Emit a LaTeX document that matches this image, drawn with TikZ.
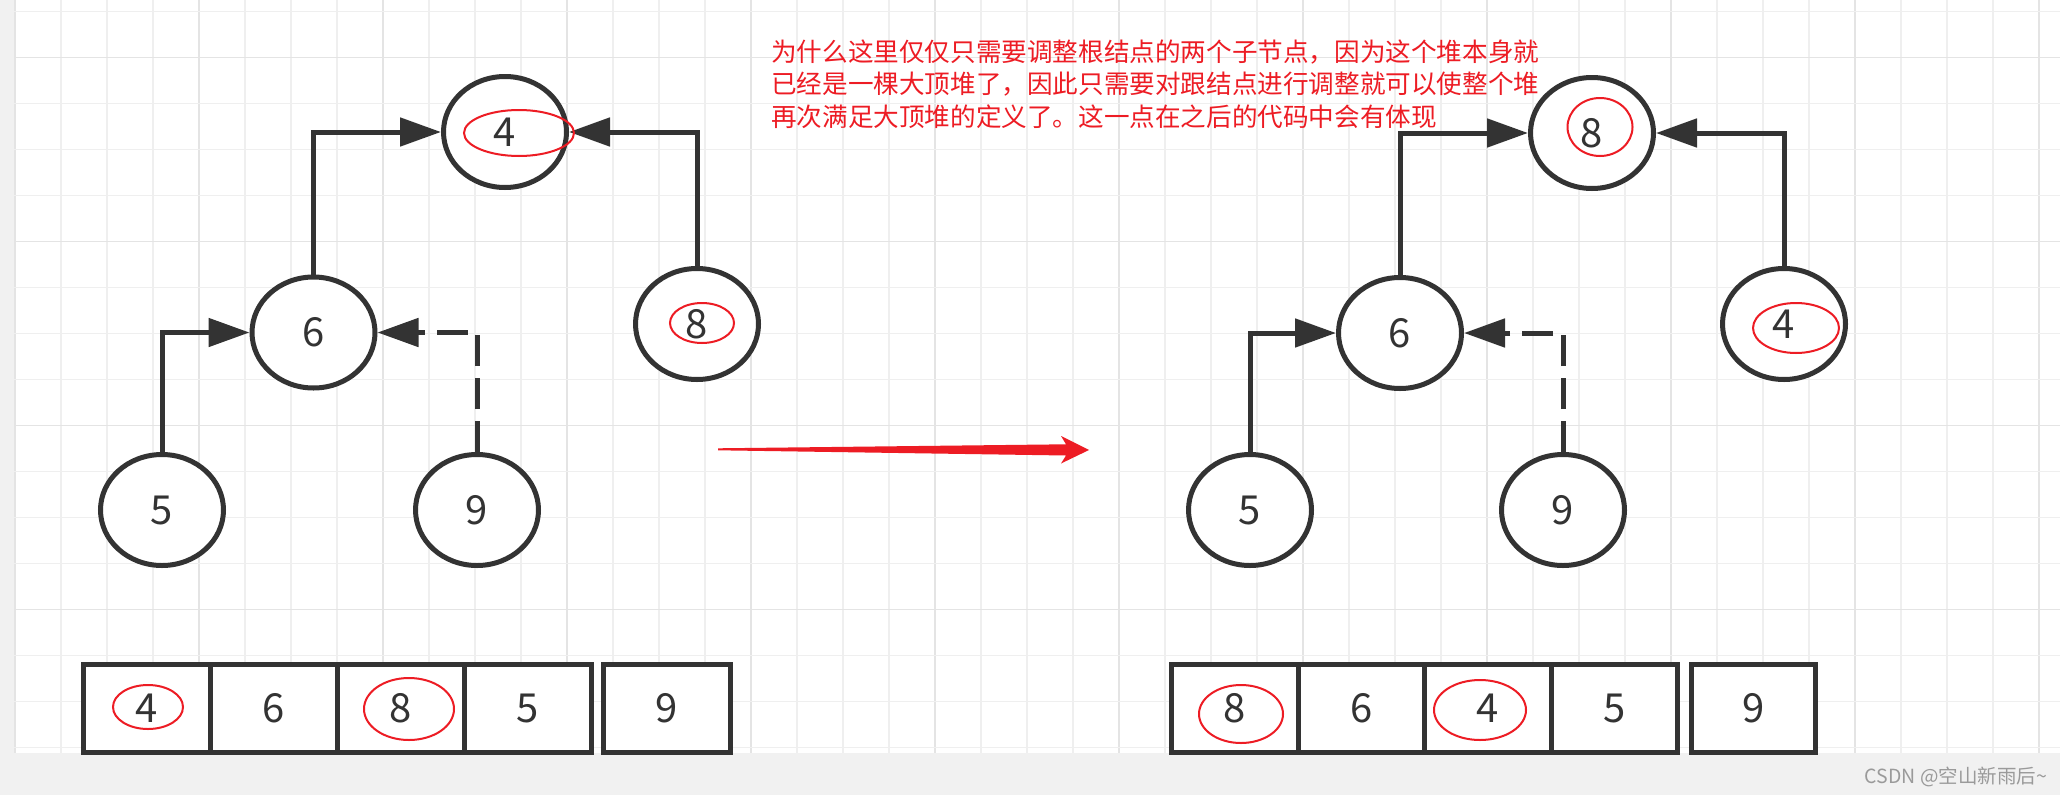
\documentclass[tikz,border=0pt]{standalone}
\usepackage{fontspec}
\setmainfont{Noto Sans CJK SC}
\usetikzlibrary{arrows.meta,shapes.geometric}
\definecolor{dk}{HTML}{333333}
\definecolor{rd}{HTML}{ED1C24}
\definecolor{bgg}{HTML}{F1F1F1}
\definecolor{gmin}{HTML}{EFEFEF}
\definecolor{gmaj}{HTML}{E4E4E4}
\definecolor{wmc}{HTML}{9A9A9A}
\tikzset{
  hnode/.style={ellipse, draw=dk, line width=5pt, fill=white, minimum width=123pt, minimum height=111pt, inner sep=0pt, text=dk, font=\fontsize{40}{40}\selectfont},
  cell/.style={rectangle, draw=dk, line width=5pt, fill=white, minimum width=127pt, minimum height=88pt, inner sep=0pt, text=dk, font=\fontsize{40}{40}\selectfont},
  link/.style={draw=dk, line width=5pt, -{Triangle[length=41pt,width=28pt]}},
  dlink/.style={link, dash pattern=on 31pt off 12pt},
  redring/.style={draw=rd, line width=2pt},
  note/.style={anchor=base west, text=rd, inner sep=0pt, font=\fontsize{25.6}{25.6}\selectfont}
}
\begin{document}
\begin{tikzpicture}[x=1pt,y=-1pt]
\useasboundingbox (0,0) rectangle (2060,795);
% background
\fill[bgg] (0,0) rectangle (2060,795);
\fill[white] (14,0) rectangle (2060,753);
\foreach \k in {0,...,44}{
  \pgfmathtruncatemacro{\m}{mod(\k,4)}
  \ifnum\m=0
    \draw[gmaj, line width=1.2pt] ({15+46*\k},0) -- ({15+46*\k},753);
  \else
    \draw[gmin, line width=1.2pt] ({15+46*\k},0) -- ({15+46*\k},753);
  \fi
}
\foreach \k in {0,...,16}{
  \pgfmathtruncatemacro{\m}{mod(\k+3,4)}
  \ifnum\m=0
    \draw[gmaj, line width=1.2pt] (14,{11.5+46*\k}) -- (2060,{11.5+46*\k});
  \else
    \draw[gmin, line width=1.2pt] (14,{11.5+46*\k}) -- (2060,{11.5+46*\k});
  \fi
}

% ---------- left tree ----------
\node[hnode] (La) at (505,132) {4};
\node[hnode] (Lb) at (313.5,332.5) {6};
\node[hnode] (Lc) at (697,324) {8};
\node[hnode] (Ld) at (162,510) {5};
\node[hnode] (Le) at (477,510) {9};
\draw[link] (Lb.north) |- (La.west);
\draw[link] (Lc.north) |- (La.east);
\draw[link] (Ld.north) |- (Lb.west);
\draw[dlink] (Le.north) |- (Lb.east);
\draw[redring] (519,133) ellipse [x radius=55, y radius=23];
\draw[redring] (702,323) ellipse [x radius=32, y radius=20];

% ---------- right tree ----------
\node[hnode] (Ra) at (1592,133) {8};
\node[hnode] (Rb) at (1400,333) {6};
\node[hnode] (Rc) at (1784,324) {4};
\node[hnode] (Rd) at (1250,510) {5};
\node[hnode] (Re) at (1563,510) {9};
\draw[link] (Rb.north) |- (Ra.west);
\draw[link] (Rc.north) |- (Ra.east);
\draw[link] (Rd.north) |- (Rb.west);
\draw[dlink] (Re.north) |- (Rb.east);
\draw[redring] (1600,127) ellipse [x radius=32.5, y radius=29];
\draw[redring] (1796,328) ellipse [x radius=43, y radius=25];

% ---------- arrays ----------
\node[cell] (A1) at (147,708.5) {4};
\node[cell] (A2) at (274,708.5) {6};
\node[cell] (A3) at (401,708.5) {8};
\node[cell] (A4) at (528,708.5) {5};
\node[cell] (A5) at (667,708.5) {9};
\draw[redring] (148,707) ellipse [x radius=35, y radius=22];
\draw[redring] (409,709) ellipse [x radius=45, y radius=31];

\node[cell, minimum width=126.5pt] (B1) at (1234.75,708.5) {8};
\node[cell, minimum width=126.5pt] (B2) at (1361.25,708.5) {6};
\node[cell, minimum width=126.5pt] (B3) at (1487.75,708.5) {4};
\node[cell, minimum width=126.5pt] (B4) at (1614.25,708.5) {5};
\node[cell, minimum width=124pt] (B5) at (1753.5,708.5) {9};
\draw[redring] (1241,714) ellipse [x radius=42, y radius=29];
\draw[redring] (1480,710) ellipse [x radius=46, y radius=30];

% ---------- red arrow ----------
\fill[rd] (718,448.3) -- (1066,444.3) -- (1061,436) -- (1089,450) -- (1061,463.5) -- (1066,455.5) -- (718,450.3) -- cycle;

% ---------- note ----------
\node[note] (t1) at (771,61) {为什么这里仅仅只需要调整根结点的两个子节点，因为这个堆本身就};
\node[note] (t2) at (771,93.7) {已经是一棵大顶堆了，因此只需要对跟结点进行调整就可以使整个堆};
\node[note] (t3) at (771,126.4) {再次满足大顶堆的定义了。这一点在之后的代码中会有体现};

% ---------- watermark ----------
\node[anchor=base east, inner sep=0pt, text=wmc, font=\fontsize{19.5}{19.5}\selectfont] (wm) at (2047,783) {CSDN @空山新雨后\textasciitilde};
\end{tikzpicture}
\end{document}
